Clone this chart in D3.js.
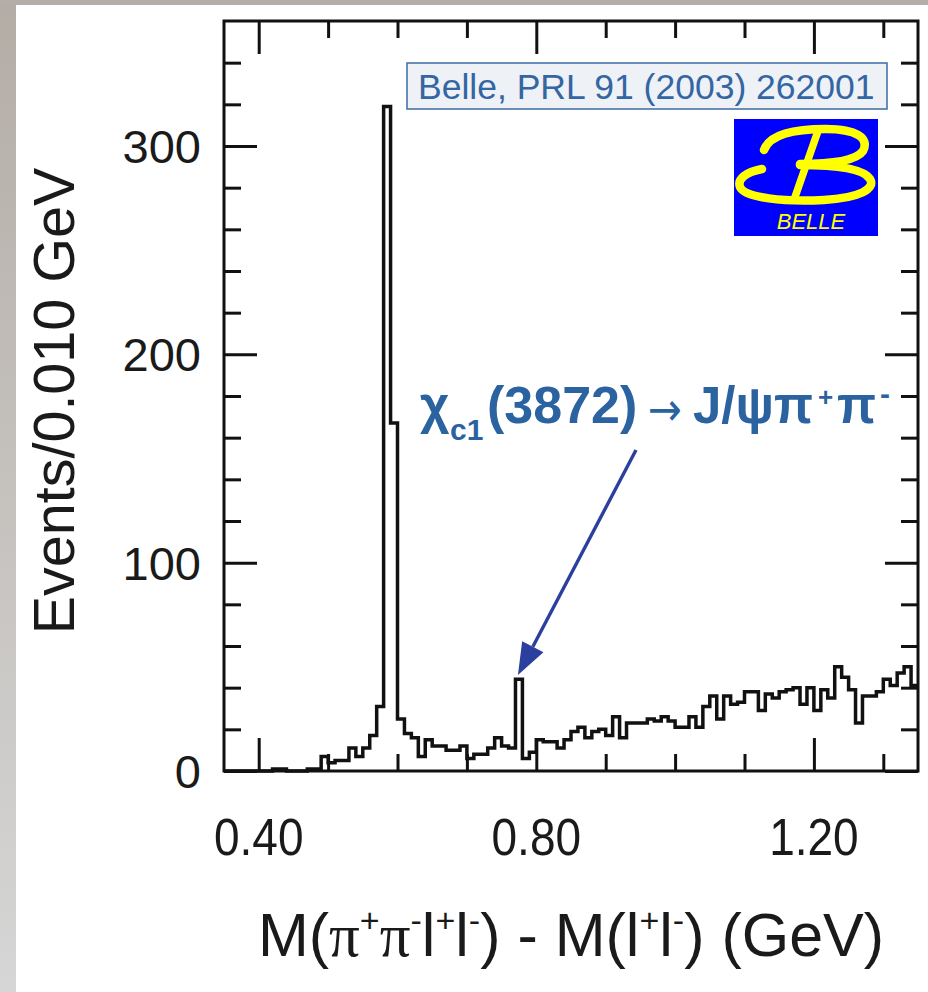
<!DOCTYPE html>
<html>
<head>
<meta charset="utf-8">
<script src="https://cdn.jsdelivr.net/npm/d3@7"></script>
<style>
  html, body { margin: 0; padding: 0; background: #fff; }
  svg { display: block; }
  text { font-family: "Liberation Sans", Arial, Helvetica, sans-serif; }
</style>
</head>
<body>
<div id="chart"></div>
<script>
// ---------------- data ----------------
// bin lower edges (GeV), bin width 0.010 GeV
const binLow = 0.35, binWidth = 0.01;
const counts = [
  0, 0, 0, 0, 0, 0, 0, 1, 1, 0,        // 0.35 - 0.44
  0, 0, 1, 1, 7, 4, 5, 5, 11, 7,       // 0.45 - 0.54
  11, 17, 31, 319, 167, 25, 18, 16, 7, 15,   // 0.55 - 0.64
  12, 12, 10, 10, 12, 6, 8, 8, 11, 16, // 0.65 - 0.74
  12, 11, 44, 6, 9, 15, 14, 14, 11, 15, // 0.75 - 0.84
  19, 21, 16, 19, 20, 17, 26, 16, 23, 23, // 0.85 - 0.94
  23, 25, 24, 26, 24, 21, 21, 26, 21, 31, // 0.95 - 1.04
  36, 25, 36, 32, 33, 38, 38, 29, 37, 35, // 1.05 - 1.14
  38, 39, 40, 32, 40, 29, 39, 35, 50, 45, // 1.15 - 1.24
  39, 23, 36, 36, 38, 44, 41, 47, 50, 41  // 1.25 - 1.34
];
const binEdges = counts.map((_, i) => +(binLow + i * binWidth).toFixed(3));

const xMajorTicks = [0.40, 0.80, 1.20];
const xMajorLabels = ["0.40", "0.80", "1.20"];
const xMinorTicks = [0.5, 0.6, 0.7, 0.9, 1.0, 1.1, 1.3];
const yMajorTicks = [0, 100, 200, 300];
const yMajorLabels = ["0", "100", "200", "300"];
const yMinorTicks = [20, 40, 60, 80, 120, 140, 160, 180, 220, 240, 260, 280, 320, 340];

const citation = "Belle, PRL 91 (2003) 262001";
const yTitle = "Events/0.010 GeV";

// ---------------- layout ----------------
const W = 928, H = 992;
const plot = { left: 224, right: 918, top: 21, bottom: 771 };

const svg = d3.select("#chart").append("svg")
  .attr("width", W).attr("height", H);

const defs = svg.append("defs");
const g1 = defs.append("linearGradient").attr("id", "bgGrad")
  .attr("x1", 0).attr("y1", 0).attr("x2", 0).attr("y2", 1);
g1.append("stop").attr("offset", "0%").attr("stop-color", "#b4ada6");
g1.append("stop").attr("offset", "100%").attr("stop-color", "#d6d6d6");

svg.append("rect").attr("width", W).attr("height", H).attr("fill", "url(#bgGrad)");
svg.append("rect").attr("x", 0).attr("y", 0).attr("width", W).attr("height", 5).attr("fill", "#b5aea8");
svg.append("rect").attr("x", 16).attr("y", 5).attr("width", W - 16).attr("height", H - 5).attr("fill", "#fff");

const x = d3.scaleLinear().domain([0.35, 1.35]).range([plot.left, plot.right]);
const y = d3.scaleLinear().domain([0, 360]).range([plot.bottom, plot.top]);

const ink = "#111";
const majorLen = 33, minorLen = 17;

function styleAxis(g) {
  g.select(".domain").remove();
  g.selectAll(".tick line").attr("stroke", ink).attr("stroke-width", 3);
}
function addAxis(axisFn, scale, ticks, size, tx, ty) {
  const g = svg.append("g").attr("transform", `translate(${tx},${ty})`);
  g.call(axisFn(scale).tickValues(ticks).tickSize(-size).tickFormat(""));
  styleAxis(g);
}
addAxis(d3.axisBottom, x, xMajorTicks, majorLen, 0, plot.bottom);
addAxis(d3.axisBottom, x, xMinorTicks, minorLen, 0, plot.bottom);
addAxis(d3.axisTop, x, xMajorTicks, majorLen, 0, plot.top);
addAxis(d3.axisTop, x, xMinorTicks, minorLen, 0, plot.top);
addAxis(d3.axisLeft, y, yMajorTicks, majorLen, plot.left, 0);
addAxis(d3.axisLeft, y, yMinorTicks, minorLen, plot.left, 0);
addAxis(d3.axisRight, y, yMajorTicks, majorLen, plot.right, 0);
addAxis(d3.axisRight, y, yMinorTicks, minorLen, plot.right, 0);

// tick labels
svg.append("g").selectAll("text").data(xMajorTicks).join("text")
  .attr("transform", d => `translate(${x(d)},855) scale(1,1.13)`)
  .attr("text-anchor", "middle").attr("font-size", 46).attr("fill", "#1a1a1a")
  .text((d, i) => xMajorLabels[i]);
svg.append("g").selectAll("text").data(yMajorTicks).join("text")
  .attr("x", 201).attr("y", d => y(d) + 17)
  .attr("text-anchor", "end").attr("font-size", 47).attr("fill", "#1a1a1a")
  .text((d, i) => yMajorLabels[i]);

// axis titles
svg.append("text")
  .attr("transform", `translate(74,401) rotate(-90)`)
  .attr("text-anchor", "middle").attr("font-size", 57.5).attr("fill", "#1a1a1a")
  .text(yTitle);

const xt = svg.append("text").attr("x", 571).attr("y", 956)
  .attr("text-anchor", "middle").attr("font-size", 61).attr("fill", "#1a1a1a");
const piFont = "'Liberation Serif', 'Times New Roman', serif";
const sup = -24, supSize = 34;
xt.append("tspan").text("M(");
xt.append("tspan").attr("font-family", piFont).text("π");
xt.append("tspan").attr("font-size", supSize).attr("dy", sup).text("+");
xt.append("tspan").attr("font-family", piFont).attr("dy", -sup).text("π");
xt.append("tspan").attr("font-size", supSize).attr("dy", sup).text("-");
xt.append("tspan").attr("dy", -sup).text("l");
xt.append("tspan").attr("font-size", supSize).attr("dy", sup).text("+");
xt.append("tspan").attr("dy", -sup).text("l");
xt.append("tspan").attr("font-size", supSize).attr("dy", sup).text("-");
xt.append("tspan").attr("dy", -sup).text(") - M(l");
xt.append("tspan").attr("font-size", supSize).attr("dy", sup).text("+");
xt.append("tspan").attr("dy", -sup).text("l");
xt.append("tspan").attr("font-size", supSize).attr("dy", sup).text("-");
xt.append("tspan").attr("dy", -sup).text(") (GeV)");

// histogram
const pts = binEdges.map((e, i) => [e, counts[i]]);
pts.push([binLow + counts.length * binWidth, counts[counts.length - 1]]);
const line = d3.line().x(d => x(d[0])).y(d => y(d[1])).curve(d3.curveStepAfter);
svg.append("path").datum(pts)
  .attr("d", line)
  .attr("fill", "none").attr("stroke", ink).attr("stroke-width", 3.5)
  .attr("stroke-linejoin", "miter");

// frame
svg.append("rect")
  .attr("x", plot.left).attr("y", plot.top)
  .attr("width", plot.right - plot.left).attr("height", plot.bottom - plot.top)
  .attr("fill", "none").attr("stroke", ink).attr("stroke-width", 3);

// citation box
svg.append("rect").attr("x", 407).attr("y", 63).attr("width", 480).attr("height", 46)
  .attr("fill", "#eef1f6").attr("stroke", "#4674aa").attr("stroke-width", 1.6);
svg.append("text").attr("x", 418).attr("y", 99).attr("font-size", 35.5)
  .attr("fill", "#3366a2").text(citation);

// Belle logo
const logo = svg.append("g").attr("transform", "translate(734,119)");
logo.append("rect").attr("width", 144).attr("height", 117).attr("fill", "#0000ff");
const yel = "#ffff00";
logo.append("path")
  .attr("d", "M30,31 C36,15 60,10 92,10 C122,10 136,19 129,32 C122,42 96,45 66,45")
  .attr("fill", "none").attr("stroke", yel).attr("stroke-width", 8.5).attr("stroke-linecap", "round");
logo.append("path")
  .attr("d", "M84,12 L61,78")
  .attr("fill", "none").attr("stroke", yel).attr("stroke-width", 7.5).attr("stroke-linecap", "round");
logo.append("path")
  .attr("d", "M28,50 C12,53 3,60 6,68 C11,79 50,83 90,81 C125,79 142,70 136,60 C130,50 104,46 66,46")
  .attr("fill", "none").attr("stroke", yel).attr("stroke-width", 8.5).attr("stroke-linecap", "round");
logo.append("text").attr("x", 77).attr("y", 110).attr("text-anchor", "middle")
  .attr("font-size", 22).attr("font-style", "italic").attr("fill", yel).text("BELLE");

// annotation
const annColor = "#2b63a0";
const ann = svg.append("text").attr("fill", annColor).attr("font-weight", "bold");
ann.append("tspan").attr("x", 420).attr("y", 423).attr("font-size", 51).text("χ");
ann.append("tspan").attr("x", 450).attr("y", 440).attr("font-size", 30).text("c1");
ann.append("tspan").attr("x", 487).attr("y", 423).attr("font-size", 52).text("(3872)");
ann.append("tspan").attr("x", 648).attr("y", 425).attr("font-size", 46).attr("font-weight", "normal")
  .attr("font-family", "'DejaVu Sans', sans-serif").attr("textLength", 34).attr("lengthAdjust", "spacingAndGlyphs").text("→");
ann.append("tspan").attr("x", 693).attr("y", 423).attr("font-size", 51).text("J/ψπ");
ann.append("tspan").attr("x", 818).attr("y", 406).attr("font-size", 26).text("+");
ann.append("tspan").attr("x", 837).attr("y", 423).attr("font-size", 51).text("π");
ann.append("tspan").attr("x", 880).attr("y", 404).attr("font-size", 30).text("-");

// arrow pointing at the X(3872) bin
const arrowColor = "#2a3f9e";
const xPeak = 0.775, yPeak = 47;
const tip = [x(xPeak) - 1, y(yPeak) + 2];
const tail = [636, 450];
const dx = tip[0] - tail[0], dy = tip[1] - tail[1];
const len = Math.hypot(dx, dy), ux = dx / len, uy = dy / len;
const headL = 32, headW = 12;
const base = [tip[0] - ux * headL, tip[1] - uy * headL];
svg.append("line").attr("x1", tail[0]).attr("y1", tail[1])
  .attr("x2", base[0]).attr("y2", base[1])
  .attr("stroke", arrowColor).attr("stroke-width", 3.4);
svg.append("path")
  .attr("d", `M${tip[0]},${tip[1]} L${base[0] - uy * headW},${base[1] + ux * headW} L${base[0] + uy * headW},${base[1] - ux * headW} Z`)
  .attr("fill", arrowColor);
</script>
</body>
</html>
